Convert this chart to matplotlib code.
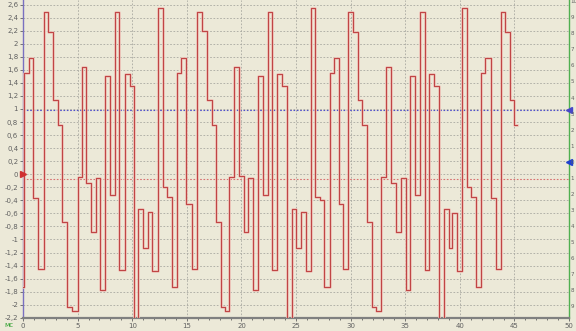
import matplotlib.pyplot as plt
from matplotlib.ticker import MultipleLocator, FuncFormatter

# step edges (ms) and the level held from each edge on (V)
t_ms = [0.0, 0.09, 0.58, 0.94, 1.39, 1.91, 2.3, 2.76, 3.21, 3.6, 4.03, 4.5,
        5.0, 5.36, 5.79, 6.24, 6.7, 7.09, 7.5, 7.97, 8.42, 8.82, 9.3, 9.8,
        10.15, 10.55, 11.03, 11.45, 11.85, 12.4, 12.79, 13.2, 13.6,
        14.1, 14.5, 14.9, 15.45, 15.9, 16.4, 16.8, 17.3, 17.7, 18.1, 18.5,
        18.9, 19.3, 19.73, 20.2, 20.62, 21.1, 21.48, 22.0, 22.39, 22.79, 23.3, 23.7,
        24.15, 24.6, 25.03, 25.42, 25.88, 26.33, 26.76, 27.15, 27.54,
        28.09, 28.45, 28.95, 29.33, 29.79, 30.24, 30.64, 31.06, 31.5, 31.97, 32.36,
        32.82, 33.27, 33.73, 34.18, 34.64, 35.03, 35.45, 35.91, 36.36, 36.82, 37.21, 37.61,
        38.1, 38.58, 39.0, 39.3, 39.76, 40.21, 40.67, 41.03, 41.5,
        41.97, 42.33, 42.85, 43.3, 43.76, 44.15, 44.58, 44.97, 45.21]
volts = [-1.73, 1.55, 1.78, -0.37, -1.45, 2.48, 2.18, 1.14, 0.75, -0.73, -2.04, -2.1,
         -0.04, 1.65, -0.14, -0.88, -0.06, -1.78, 1.5, -0.32, 2.48, -1.47, 1.53, 1.35,
         -2.22, -0.53, -1.13, -0.58, -1.49, 2.54, -0.19, -0.35, -1.73,
         1.55, 1.78, -0.45, -1.45, 2.48, 2.19, 1.14, 0.75, -0.73, -2.04, -2.1,
         -0.04, 1.65, -0.02, -0.88, -0.06, -1.78, 1.5, -0.32, 2.48, -1.47, 1.53, 1.35,
         -2.25, -0.53, -1.13, -0.58, -1.49, 2.55, -0.35, -0.4, -1.73,
         1.55, 1.78, -0.45, -1.45, 2.48, 2.18, 1.14, 0.75, -0.73, -2.04, -2.1,
         -0.04, 1.65, -0.14, -0.88, -0.06, -1.78, 1.5, -0.32, 2.48, -1.47, 1.53, 1.35,
         -2.25, -0.53, -1.13, -0.6, -1.49, 2.54, -0.19, -0.35, -1.73,
         1.55, 1.78, -0.37, -1.45, 2.48, 2.18, 1.14, 0.75, 0.75]

bg = '#ECE9D8'
fig = plt.figure(figsize=(5.76, 3.31), dpi=100, facecolor=bg)
ax = fig.add_axes([0.040, 0.040, 0.948, 0.960], facecolor=bg)

ax.step(t_ms, volts, where='post', color='#EFC2B8', lw=1.8, zorder=3)
ax.step(t_ms, volts, where='post', color='#C04545', lw=0.8, zorder=4)

ax.set_xlim(0, 50)
ax.set_ylim(-2.2, 2.67)

# grid
for yv in [i * 0.2 for i in range(-10, 14)]:
    ax.axhline(yv, color='#A8A8A0', lw=0.6, ls=(0, (2, 2)), zorder=1)
for xv in range(5, 50, 5):
    ax.axvline(xv, color='#A8A8A0', lw=0.6, ls=(0, (2, 2)), zorder=1)

# cursor lines
ax.axhline(0.98, color='#5050C8', lw=0.8, ls=(0, (1.5, 1.5)), zorder=2)
ax.axhline(-0.08, color='#D87070', lw=0.8, ls=(0, (1.5, 1.5)), zorder=2)

ax.xaxis.set_major_locator(MultipleLocator(5))
ax.xaxis.set_minor_locator(MultipleLocator(1))
ax.yaxis.set_major_locator(MultipleLocator(0.2))
fmt = FuncFormatter(lambda v, p: ('%g' % round(v, 1)).replace('.', ',') if abs(v) > 1e-9 else '0')
ax.yaxis.set_major_formatter(fmt)
ax.tick_params(axis='both', labelsize=5, colors='#606060', length=2, width=0.6, pad=1.5)
ax.tick_params(axis='x', which='minor', length=1.5, color='#606060')

ax.spines['top'].set_visible(False)
ax.spines['bottom'].set_color('#808080')
ax.spines['bottom'].set_linewidth(1.6)
ax.spines['left'].set_color('#7A70C0')
ax.spines['left'].set_linewidth(1.0)
ax.spines['right'].set_color('#50B050')
ax.spines['right'].set_linewidth(1.0)

# second channel scale on the right
ax2 = ax.twinx()
ax2.set_ylim((-2.2 - 0.19) * 4.06, (2.67 - 0.19) * 4.06)
ax2.yaxis.set_major_locator(MultipleLocator(1))
ax2.yaxis.set_major_formatter(FuncFormatter(lambda v, p: '%d' % abs(round(v))))
ax2.tick_params(axis='y', labelsize=4, colors='#606060', length=0, pad=1)
for s in ax2.spines.values():
    s.set_visible(False)

# channel markers
ax.plot([0], [0], marker='>', color='#D03030', ms=4, clip_on=False, zorder=6)
ax.plot([50], [0.98], marker='<', color='#4848C8', ms=4, clip_on=False, zorder=6)
ax.plot([50], [0.19], marker='<', color='#2040D0', ms=4, clip_on=False, zorder=6)

fig.text(0.008, 0.012, 'мс', fontsize=5, color='#30A030')

fig.savefig('out.png', dpi=100, facecolor=bg)
